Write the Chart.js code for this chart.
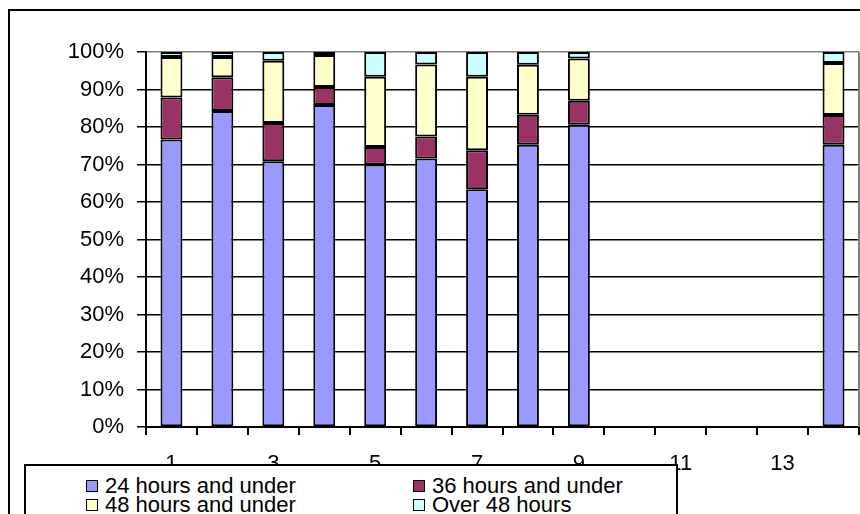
<!DOCTYPE html>
<html>
<head>
<meta charset="utf-8">
<script src="https://cdn.jsdelivr.net/npm/chart.js@4"></script>
<style>
    html, body { margin: 0; padding: 0; width: 860px; height: 514px; overflow: hidden; background: #fff; }
    body { font-family: 'Liberation Sans', Arial, sans-serif; position: relative; }
    #frame { position: absolute; left: 8px; top: 9px; width: 900px; height: 600px; border: 2px solid #000; }
    #chart { position: absolute; left: 0; top: 0; }
    #legend { position: absolute; left: 24px; top: 464px; width: 650px; height: 80px; border: 2px solid #000; background: #fff; }
    .item { position: absolute; font-size: 22px; line-height: 20px; color: #000; white-space: nowrap; }
    .swatch { display: inline-block; width: 10px; height: 10px; border: 1px solid #000; margin-right: 7px; vertical-align: 1px; }
</style>
</head>
<body>
<div id="frame"></div>
<canvas id="chart" width="860" height="514"></canvas>
<div id="legend"></div>
<script>
// Categories and tick labels
const categories = ['1', '2', '3', '4', '5', '6', '7', '8', '9', '10', '11', '12', '13', '14'];
const tickLabels = ['1', '', '3', '', '5', '', '7', '', '9', '', '11', '', '13', ''];

// Series values (percent of each bar)
const under24 = [76.7, 84.3, 70.9, 85.9, 70.0, 71.6, 63.4, 75.3, 80.6, null, null, null, null, 75.3];
const under36 = [11.2, 9.0, 10.2, 4.8, 4.7, 5.9, 10.4, 8.0, 6.4, null, null, null, null, 7.9];
const under48 = [10.8, 5.4, 16.6, 8.5, 18.7, 19.2, 19.6, 13.3, 11.3, null, null, null, null, 13.9];
const over48 = [1.3, 1.3, 2.3, 0.8, 6.6, 3.3, 6.6, 3.4, 1.7, null, null, null, null, 2.9];

const seriesNames = ['24 hours and under', '36 hours and under', '48 hours and under', 'Over 48 hours'];
const seriesColors = ['#9999FF', '#993366', '#FFFFCC', '#CCFFFF'];
const yTicks = [0, 10, 20, 30, 40, 50, 60, 70, 80, 90, 100];

const FONT = "'Liberation Sans', Arial, sans-serif";

// gray plot area border on the right side
const plotBorder = {
    id: 'plotBorder',
    beforeDatasetsDraw(chart) {
        const { ctx, chartArea } = chart;
        ctx.save();
        ctx.strokeStyle = '#808080';
        ctx.lineWidth = 2;
        ctx.beginPath();
        ctx.moveTo(chartArea.right, chartArea.top);
        ctx.lineTo(chartArea.right, chartArea.bottom);
        ctx.stroke();
        ctx.restore();
    }
};

const allSeries = [under24, under36, under48, over48];
const datasets = allSeries.map((values, i) => ({
    label: seriesNames[i],
    data: values,
    backgroundColor: seriesColors[i],
    borderColor: '#000',
    borderWidth: 2,
    borderSkipped: false,
    barPercentage: 0.43,
    categoryPercentage: 1.0
}));

new Chart(document.getElementById('chart'), {
    type: 'bar',
    data: { labels: categories, datasets: datasets },
    plugins: [plotBorder],
    options: {
        responsive: false,
        animation: false,
        devicePixelRatio: 1,
        layout: { padding: { left: 0, top: 52, right: 1, bottom: 0 } },
        plugins: {
            legend: { display: false },
            tooltip: { enabled: false }
        },
        scales: {
            x: {
                stacked: true,
                grid: { offset: true, drawOnChartArea: false, tickLength: 8, tickColor: '#000', lineWidth: 2 },
                border: { color: '#000', width: 2 },
                ticks: {
                    autoSkip: false,
                    maxRotation: 0,
                    padding: 16,
                    color: '#000',
                    font: { family: FONT, size: 22 },
                    callback: (v, i) => tickLabels[i]
                },
                afterFit: scale => { scale.height = 87; }
            },
            y: {
                stacked: true,
                min: 0,
                max: 100,
                afterBuildTicks: scale => { scale.ticks = yTicks.map(v => ({ value: v })); },
                grid: {
                    color: c => (c.tick && c.tick.value === 100) ? '#808080' : '#000',
                    tickColor: '#000',
                    tickLength: 9,
                    lineWidth: 1.5
                },
                border: { color: '#000', width: 2 },
                ticks: {
                    padding: 13,
                    color: '#000',
                    font: { family: FONT, size: 22 },
                    callback: v => v + '%'
                },
                afterFit: scale => { scale.width = 146; }
            }
        }
    }
});

// legend box drawn over the bottom axis labels, as in the original
const legendEl = document.getElementById('legend');
const legendPos = [[60, 10], [387, 10], [60, 29], [387, 29]];
seriesNames.forEach((name, i) => {
    const item = document.createElement('div');
    item.className = 'item';
    item.style.left = legendPos[i][0] + 'px';
    item.style.top = legendPos[i][1] + 'px';
    item.innerHTML = `<span class="swatch" style="background:${seriesColors[i]}"></span>${name}`;
    legendEl.appendChild(item);
});
</script>
</body>
</html>
